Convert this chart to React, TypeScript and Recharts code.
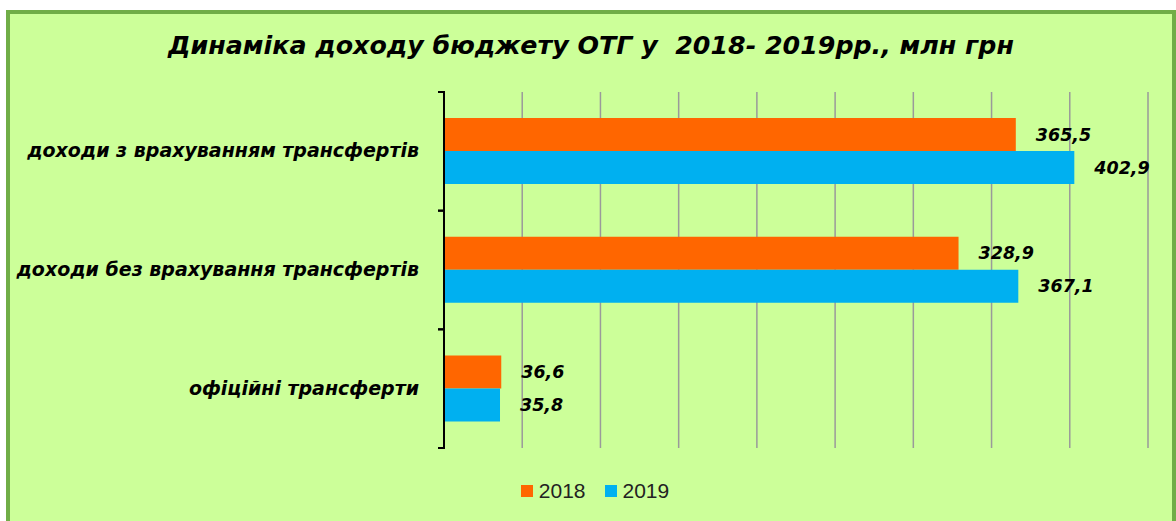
import { BarChart, Bar, XAxis, YAxis, CartesianGrid, Legend, LabelList } from 'recharts';

const categories = [
  'доходи з врахуванням  трансфертів',
  'доходи без врахування трансфертів',
  'офіційні трансферти',
];
const values2018 = [365.5, 328.9, 36.6];
const values2019 = [402.9, 367.1, 35.8];
const xTicks = [0, 50, 100, 150, 200, 250, 300, 350, 400, 450];

const data = categories.map((name, i) => ({
  name,
  y2018: values2018[i],
  y2019: values2019[i],
}));

const FONT = '"DejaVu Sans", Verdana, sans-serif';

function CategoryTick(props: any) {
  const { x, y, payload } = props;
  const half = payload.offset || 0;
  return (
    <g>
      <line x1={x + 2} x2={x + 9} y1={y - half} y2={y - half} stroke="#000" strokeWidth={2} />
      <line x1={x + 2} x2={x + 9} y1={y + half} y2={y + half} stroke="#000" strokeWidth={2} />
      <text
        x={x - 17}
        y={y}
        dy={6}
        textAnchor="end"
        fontFamily={FONT}
        fontSize={19}
        fontStyle="italic"
        fontWeight="bold"
        fill="#000"
      >
        {payload.value}
      </text>
    </g>
  );
}

function LegendContent(props: any) {
  const { payload } = props;
  return (
    <div style={{ display: 'flex', justifyContent: 'center', gap: 19, fontFamily: '"Liberation Sans", Arial, sans-serif', fontSize: 21, color: '#222' }}>
      {(payload || []).map((p: any) => (
        <div key={p.value} style={{ display: 'flex', alignItems: 'center' }}>
          <span style={{ display: 'inline-block', width: 12, height: 12, background: p.color, marginRight: 6 }} />
          <span>{p.value}</span>
        </div>
      ))}
    </div>
  );
}

const fmt = (v: number) => String(v).replace('.', ',');

const labelStyle = { fontFamily: FONT, fontSize: 17.5, fontStyle: 'italic', fontWeight: 'bold', fill: '#000' };

export default function App() {
  return (
    <div style={{ position: 'absolute', left: 0, top: 0, width: 1176, height: 521, background: '#fff', overflow: 'hidden' }}>
      <div
        style={{
          position: 'absolute',
          left: 6,
          top: 10,
          width: 1170,
          height: 530,
          boxSizing: 'border-box',
          border: '4px solid #70AD47',
          borderBottom: 'none',
          background: '#CCFF99',
        }}
      />
      <div
        style={{
          position: 'absolute',
          left: 0,
          top: 31,
          width: 1182,
          textAlign: 'center',
          fontFamily: FONT,
          fontSize: 25.3,
          fontStyle: 'italic',
          fontWeight: 'bold',
          color: '#000',
          whiteSpace: 'pre',
        }}
      >
        {'Динаміка доходу бюджету ОТГ у  2018- 2019рр., млн грн'}
      </div>
      <div style={{ position: 'absolute', left: 0, top: 0 }}>
        <BarChart
          width={1176}
          height={521}
          data={data}
          layout="vertical"
          margin={{ top: 92, right: 28, bottom: 73, left: 0 }}
          barCategoryGap="22%"
          barGap={0}
        >
          <CartesianGrid horizontal={false} stroke="#9a9a9a" strokeWidth={1.5} />
          <XAxis type="number" domain={[0, 450]} ticks={xTicks} hide />
          <YAxis
            type="category"
            dataKey="name"
            width={444}
            axisLine={{ stroke: '#000', strokeWidth: 2 }}
            tickLine={false}
            tick={<CategoryTick />}
          />
          <Legend
            verticalAlign="middle"
            align="center"
            content={<LegendContent />}
            wrapperStyle={{ position: 'absolute', top: 479, left: 0, width: 1190 }}
          />
          <Bar dataKey="y2018" name="2018" fill="#FF6600" isAnimationActive={false}>
            <LabelList dataKey="y2018" position="right" offset={20} formatter={fmt} style={labelStyle} />
          </Bar>
          <Bar dataKey="y2019" name="2019" fill="#00B0F0" isAnimationActive={false}>
            <LabelList dataKey="y2019" position="right" offset={20} formatter={fmt} style={labelStyle} />
          </Bar>
        </BarChart>
      </div>
    </div>
  );
}
